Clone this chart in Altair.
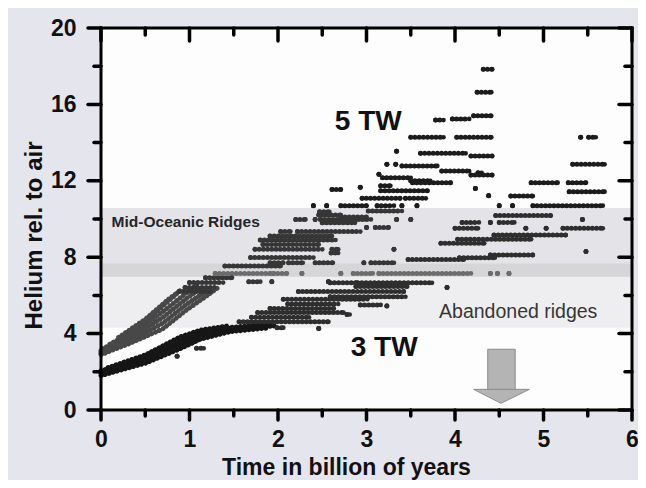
import altair as alt
import pandas as pd

W, H = 531, 382
FONT = "Liberation Sans, Arial, sans-serif"

# ---------------- data ----------------
X_TICKS = [0, 1, 2, 3, 4, 5, 6]
X_MINOR = [0.5, 1.5, 2.5, 3.5, 4.5, 5.5]
Y_TICKS = [0, 4, 8, 12, 16, 20]
Y_MINOR = [2, 6, 10, 14, 18]

BAND_NAMES = ["Mid-Oceanic Ridges", "Abandoned ridges", "overlap"]
BAND_LO = [6.97, 4.30, 6.97]
BAND_HI = [10.57, 6.97, 7.67]
BAND_COLORS = ["#e4e3e8", "#eeeef0", "#d6d6d8"]

# 5 TW run: streaks of points (y, x_start, x_end)
STREAKS_5TW = [
    (17.84, 4.32, 4.42), (16.64, 4.25, 4.41), (15.40, 4.21, 4.41),
    (15.24, 3.97, 4.16), (15.18, 3.78, 3.87), (14.28, 3.50, 3.87),
    (14.28, 4.02, 4.41), (13.55, 3.34, 3.34), (13.44, 3.61, 4.12),
    (13.30, 4.18, 4.42), (12.86, 3.23, 3.23), (12.86, 3.33, 3.33),
    (12.78, 3.40, 3.80), (12.51, 3.85, 4.16), (12.42, 4.26, 4.30),
    (12.30, 4.18, 4.42), (12.34, 3.14, 3.14), (12.16, 3.18, 3.50),
    (12.00, 3.50, 3.72), (11.90, 3.52, 3.95), (11.74, 3.16, 3.27),
    (11.66, 2.93, 2.93), (11.55, 2.61, 2.71), (11.60, 4.23, 4.23),
    (11.48, 3.16, 3.69), (11.22, 4.38, 4.38), (11.08, 2.95, 3.38),
    (11.08, 3.44, 3.67), (10.70, 2.40, 2.40), (10.70, 2.55, 2.55),
    (10.70, 2.71, 3.00), (10.70, 3.12, 3.31), (10.70, 3.40, 3.40),
    (10.70, 3.57, 3.57), (10.42, 3.02, 3.40), (10.38, 2.47, 2.58),
    (10.21, 2.46, 2.71), (10.10, 2.71, 3.00), (9.98, 2.20, 2.31),
    (9.98, 2.42, 2.42), (9.98, 2.48, 3.05), (9.98, 3.34, 3.34),
    (9.98, 3.50, 3.50), (9.80, 2.50, 2.87), (9.56, 3.00, 3.00),
    (9.56, 3.10, 3.25), (9.34, 2.03, 2.14), (9.34, 2.22, 2.93),
    (9.11, 1.91, 2.61), (8.90, 1.80, 2.65), (8.67, 1.83, 2.46),
    (8.41, 1.74, 2.50), (8.41, 2.61, 2.68), (8.41, 3.31, 3.31),
    (8.22, 2.60, 2.68), (7.98, 1.69, 2.40), (7.71, 1.91, 2.06),
    (7.71, 2.12, 2.28), (7.71, 2.42, 2.62), (7.71, 2.97, 2.97),
    (7.71, 3.05, 3.31), (7.54, 1.40, 2.03), (6.93, 1.18, 1.48),
    (6.72, 1.67, 1.80), (6.72, 1.93, 1.93), (6.67, 1.00, 1.38),
    (6.42, 0.95, 1.28), (6.20, 0.88, 1.24),
]

# 3 TW run: streaks of points (y, x_start, x_end)
STREAKS_3TW = [
    (14.28, 5.42, 5.42), (14.28, 5.51, 5.59), (12.86, 5.33, 5.69),
    (11.90, 4.86, 5.16), (11.90, 5.28, 5.48), (11.43, 5.29, 5.69),
    (11.20, 4.63, 4.88), (10.70, 4.50, 4.50), (10.70, 4.65, 4.65),
    (10.70, 4.88, 5.67), (10.18, 4.46, 5.08), (9.98, 5.44, 5.44),
    (9.82, 4.08, 4.27), (9.82, 4.40, 4.40), (9.82, 4.50, 4.67),
    (9.51, 4.00, 4.26), (9.51, 4.80, 4.80), (9.51, 5.03, 5.03),
    (9.51, 5.22, 5.67), (9.16, 4.44, 5.25), (8.94, 4.03, 4.86),
    (8.73, 3.84, 4.33), (8.30, 5.48, 5.48), (8.12, 4.40, 4.88),
    (7.97, 4.05, 4.45), (7.88, 3.47, 4.10), (6.66, 2.59, 2.88),
    (6.66, 2.90, 3.74), (6.72, 2.57, 2.57), (6.47, 2.88, 3.46),
    (6.42, 3.91, 3.91), (6.20, 2.23, 3.42), (5.93, 2.59, 3.44),
    (5.80, 2.06, 3.01), (5.55, 2.11, 2.68), (5.50, 2.93, 3.16),
    (5.45, 3.23, 3.23), (5.32, 1.91, 2.63), (5.10, 1.77, 2.74),
    (5.00, 2.78, 2.81), (4.85, 1.70, 2.35), (4.62, 1.56, 2.57),
    (4.31, 1.99, 2.06), (4.27, 2.46, 2.46), (3.23, 1.08, 1.16),
    (2.82, 0.86, 0.86),
]

# lighter grey row inside the dark band
STREAKS_GREY = [
    (7.15, 1.29, 1.91), (7.15, 1.95, 2.10), (7.15, 2.27, 2.27),
    (7.15, 2.71, 2.71), (7.15, 2.85, 3.07), (7.15, 3.14, 4.18),
    (7.15, 4.40, 4.40), (7.15, 4.48, 4.48), (7.15, 4.61, 4.61),
]

# dense early clouds, traced as several strands of points (x list, y list)
CLOUD_5TW = [
    ([0.00, 0.33, 0.70, 0.97, 1.20, 1.32], [2.90, 3.50, 4.25, 5.25, 6.00, 6.40]),
    ([0.00, 0.33, 0.70, 0.97, 1.20], [3.00, 3.62, 4.55, 5.55, 6.25]),
    ([0.00, 0.33, 0.70, 0.97, 1.15], [3.10, 3.75, 4.85, 5.85, 6.45]),
    ([0.02, 0.33, 0.70, 0.97, 1.08], [3.22, 3.88, 5.15, 6.15, 6.55]),
    ([0.10, 0.40, 0.70, 0.92], [3.45, 4.20, 5.45, 6.35]),
    ([0.20, 0.50, 0.75, 0.88], [3.80, 4.75, 5.75, 6.20]),
]
CLOUD_3TW = [
    ([0.00, 0.50, 0.89, 1.12, 1.46, 1.90], [1.80, 2.45, 3.20, 3.70, 4.10, 4.30]),
    ([0.00, 0.50, 0.89, 1.12, 1.46, 2.00], [1.92, 2.58, 3.42, 3.88, 4.20, 4.42]),
    ([0.00, 0.50, 0.89, 1.12, 1.46, 1.95], [2.05, 2.72, 3.62, 4.05, 4.32, 4.52]),
    ([0.08, 0.50, 0.89, 1.12, 1.46], [2.22, 2.88, 3.82, 4.18, 4.42]),
]

BIG_LABELS = ["5 TW", "3 TW"]
BIG_X = [3.02, 3.20]
BIG_Y = [15.1, 3.27]

# arrow (shaft and head)
ARROW_SHAFT = {"x0": 4.37, "x1": 4.68, "y0": 1.05, "y1": 3.18}
ARROW_HEAD_X = [4.21, 4.52, 4.84]
ARROW_HEAD_TOP = [1.08, 1.08, 1.08]
ARROW_HEAD_BOT = [1.08, 0.35, 1.08]

# ---------------- tables ----------------
rows = []
for y, a, b in STREAKS_5TW:
    rows.append({"y": y, "x0": a, "x1": b, "c": "#1c1c1c" if y > 10.6 else "#363636"})
for y, a, b in STREAKS_3TW:
    rows.append({"y": y, "x0": a, "x1": b, "c": "#1c1c1c" if y > 10.6 else "#2e2e2e"})
for y, a, b in STREAKS_GREY:
    rows.append({"y": y, "x0": a, "x1": b, "c": "#6c6c6c"})
streaks = pd.DataFrame(rows)
ends = pd.concat([
    streaks[["y", "x0", "c"]].rename(columns={"x0": "x"}),
    streaks[["y", "x1", "c"]].rename(columns={"x1": "x"}),
])

cl = []
for i, (xs_, ys_) in enumerate(CLOUD_5TW):
    for k, (xv, yv) in enumerate(zip(xs_, ys_)):
        cl.append({"line": f"a{i}", "k": k, "x": xv, "y": yv, "c": "#484848"})
for i, (xs_, ys_) in enumerate(CLOUD_3TW):
    for k, (xv, yv) in enumerate(zip(xs_, ys_)):
        cl.append({"line": f"b{i}", "k": k, "x": xv, "y": yv, "c": "#161616"})
clouds = pd.DataFrame(cl)

bands = pd.DataFrame({"name": BAND_NAMES, "lo": BAND_LO, "hi": BAND_HI, "col": BAND_COLORS})

xs = alt.Scale(domain=[0, 6], nice=False, zero=False)
ys = alt.Scale(domain=[0, 20], nice=False, zero=False)

x_axis = alt.Axis(
    values=X_TICKS, format="d", title="Time in billion of years",
    titleFont=FONT, titleFontSize=23, titleFontWeight="bold", titleColor="#111111",
    titleX=245, titleY=64, titleBaseline="alphabetic",
    labelFont=FONT, labelFontSize=23, labelFontWeight="bold", labelColor="#111111",
    labelPadding=18, labelFlush=False, labelOverlap=False,
    ticks=False, tickSize=0, domain=False, grid=False,
)
y_axis = alt.Axis(
    values=Y_TICKS, format="d", title="Helium rel. to air",
    titleFont=FONT, titleFontSize=24, titleFontWeight="bold", titleColor="#111111",
    titleX=-60, titleY=207, titleBaseline="alphabetic",
    labelFont=FONT, labelFontSize=23, labelFontWeight="bold", labelColor="#111111",
    labelPadding=25, labelFlush=False, labelOverlap=False,
    ticks=False, tickSize=0, domain=False, grid=False,
)

X = lambda f: alt.X(f, scale=xs, axis=x_axis)
Y = lambda f: alt.Y(f, scale=ys, axis=y_axis)

DOTS = [0.01, 4.2]

band_layer = alt.Chart(bands).mark_rect().encode(
    x=alt.value(0), x2=alt.value(W),
    y=Y("lo:Q"), y2="hi:Q",
    color=alt.Color("col:N", scale=None),
)

cloud_layer = alt.Chart(clouds).mark_line(
    strokeWidth=5, strokeCap="round", strokeJoin="round", strokeDash=DOTS
).encode(
    x=X("x:Q"), y=Y("y:Q"), detail="line:N", order="k:Q",
    color=alt.Color("c:N", scale=None),
)

streak_layer = alt.Chart(streaks).mark_rule(
    strokeWidth=5, strokeCap="round", strokeDash=DOTS
).encode(
    x=X("x0:Q"), x2="x1:Q", y=Y("y:Q"),
    color=alt.Color("c:N", scale=None),
)
end_layer = alt.Chart(ends).mark_circle(size=22, opacity=1).encode(
    x=X("x:Q"), y=Y("y:Q"), color=alt.Color("c:N", scale=None),
)

big_text = alt.Chart(pd.DataFrame({"t": BIG_LABELS, "x": BIG_X, "y": BIG_Y})).mark_text(
    font=FONT, fontSize=28, fontWeight="bold", color="#111111", align="center", baseline="middle"
).encode(x=X("x:Q"), y=Y("y:Q"), text="t:N")

mid_text = alt.Chart(pd.DataFrame({"t": ["Mid-Oceanic Ridges"], "x": [0.12], "y": [9.86]})).mark_text(
    font=FONT, fontSize=15.5, fontWeight="bold", color="#262626", align="left", baseline="middle"
).encode(x=X("x:Q"), y=Y("y:Q"), text="t:N")

ab_text = alt.Chart(pd.DataFrame({"t": ["Abandoned ridges"], "x": [3.82], "y": [5.13]})).mark_text(
    font=FONT, fontSize=19.5, color="#363636", align="left", baseline="middle"
).encode(x=X("x:Q"), y=Y("y:Q"), text="t:N")

shaft = alt.Chart(pd.DataFrame([ARROW_SHAFT])).mark_rect(
    fill="#b4b4b4", stroke="#8c8c8c", strokeWidth=1
).encode(x=X("x0:Q"), x2="x1:Q", y=Y("y0:Q"), y2="y1:Q")
head = alt.Chart(pd.DataFrame({"x": ARROW_HEAD_X, "top": ARROW_HEAD_TOP, "bot": ARROW_HEAD_BOT})).mark_area(
    fill="#b4b4b4", stroke="#8c8c8c", strokeWidth=1, opacity=1
).encode(x=X("x:Q"), y=Y("top:Q"), y2="bot:Q")

def tick_x(vals, y0, y1):
    return alt.Chart(pd.DataFrame({"v": vals})).mark_rule(
        strokeWidth=3.5, color="black", strokeCap="round"
    ).encode(x=X("v:Q"), y=alt.value(y0), y2=alt.value(y1))

def tick_y(vals, x0, x1):
    return alt.Chart(pd.DataFrame({"v": vals})).mark_rule(
        strokeWidth=3.5, color="black", strokeCap="round"
    ).encode(y=Y("v:Q"), x=alt.value(x0), x2=alt.value(x1))

ticks = [
    tick_x(X_TICKS, H, H + 10), tick_x(X_MINOR, H, H + 6),
    tick_x(X_TICKS, 0, 13), tick_x(X_MINOR, 0, 7),
    tick_y(Y_TICKS, 0, -13), tick_y(Y_MINOR, 0, -7),
    tick_y(Y_TICKS, W, W - 13), tick_y(Y_MINOR, W, W - 7),
]

frame = alt.Chart(pd.DataFrame({"a": [0]})).mark_rect(
    fillOpacity=0, stroke="black", strokeWidth=3
).encode(x=alt.value(0), x2=alt.value(W), y=alt.value(0), y2=alt.value(H))

chart = alt.layer(
    band_layer, cloud_layer, streak_layer, end_layer,
    big_text, mid_text, ab_text, shaft, head, *ticks, frame,
).properties(
    width=W, height=H,
    autosize=alt.AutoSizeParams(type="none"),
    padding={"left": 93, "top": 20, "right": 6, "bottom": 70},
    background="#e5e5ee",
).configure_view(
    fill="#fdfdfd", stroke=None, strokeWidth=0
)

chart.save("out.html", embed_options={"renderer": "svg", "actions": False})
